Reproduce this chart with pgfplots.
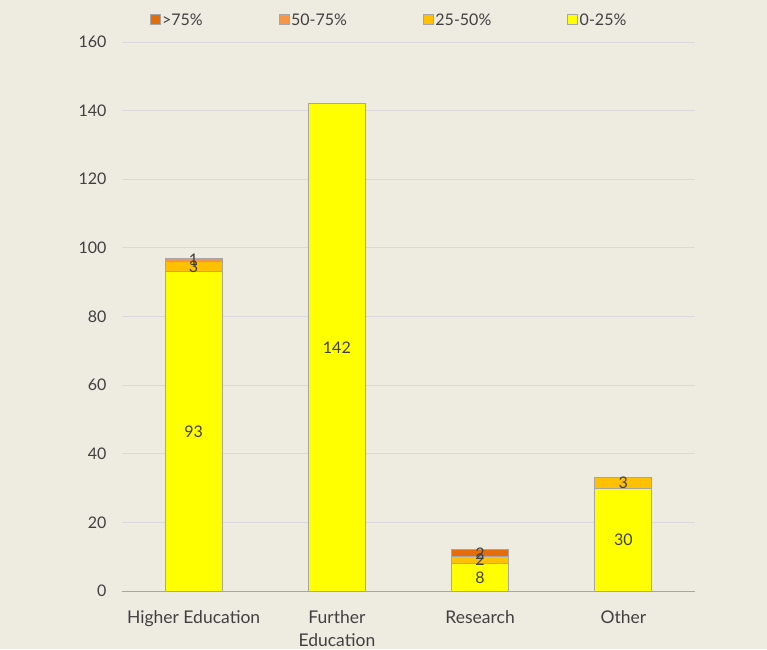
\documentclass[border=0pt]{standalone}
\usepackage{pgfplots}
\pgfplotsset{compat=1.18}
\usepackage{fontspec}
\setmainfont{Lato}
\definecolor{bg}{HTML}{EEEBE1}
\definecolor{cA}{HTML}{FFFF00}
\definecolor{cB}{HTML}{FFC000}
\definecolor{cC}{HTML}{F79646}
\definecolor{cD}{HTML}{E46C0A}
\definecolor{edge}{HTML}{A6A6A6}
\definecolor{txt}{HTML}{404040}
\definecolor{gridc}{HTML}{D9D9D9}
\begin{document}
\begin{tikzpicture}
\useasboundingbox (0,0) rectangle (767pt,649pt);
\fill[bg] (0,0) rectangle (767pt,649pt);
\begin{axis}[
  at={(122pt,58pt)}, anchor=south west,
  scale only axis, width=573pt, height=549pt,
  ybar stacked, bar width=57pt,
  xmin=-0.5, xmax=3.5, ymin=0, ymax=160,
  /pgf/number format/assume math mode=true,
  xtick={0,1,2,3},
  xticklabels={Higher Education, {Further\\Education}, Research, Other},
  xticklabel style={align=center, font=\fontsize{17.5}{23}\selectfont, text=txt, yshift=-12pt},
  x tick style={draw=none},
  extra x ticks={-0.5,0.5,1.5,2.5,3.5},
  extra x tick labels={},
  extra x tick style={major tick length=5pt, tick style={draw=edge, line width=0.6pt}, grid=none},
  xtick align=outside,
  ytick={0,20,...,160},
  yticklabel style={font=\fontsize{16}{18}\selectfont, text=txt, xshift=-12pt},
  y tick style={draw=none},
  ymajorgrids, grid style={gridc, line width=0.8pt},
  axis line style={draw=none},
  axis x line*=bottom,
  x axis line style={draw=edge, line width=0.8pt},
  axis y line*=left,
  y axis line style={draw=none},
  tick pos=lower,
  reverse legend,
  legend columns=4,
  legend style={at={(0.466,1)}, anchor=center, yshift=22pt, draw=none, fill=none,
    font=\fontsize{16}{18}\selectfont, text=txt,
    /tikz/every even column/.append style={column sep=74pt}},
  legend image code/.code={\draw[#1, draw=edge, line width=0.4pt] (0pt,-4.5pt) rectangle (10pt,5.5pt);},
  every axis plot/.append style={draw=edge, line width=0.8pt},
]
\addplot[fill=cA] coordinates {(0,93) (1,142) (2,8) (3,30)};
\addlegendentry{0-25\%}
\addplot[fill=cB] coordinates {(0,3) (1,0) (2,2) (3,3)};
\addlegendentry{25-50\%}
\addplot[fill=cC] coordinates {(0,1) (1,0) (2,0) (3,0)};
\addlegendentry{50-75\%}
\addplot[fill=cD] coordinates {(0,0) (1,0) (2,2) (3,0)};
\addlegendentry{>75\%}
\end{axis}
\begin{axis}[
  at={(122pt,58pt)}, anchor=south west,
  scale only axis, width=573pt, height=549pt,
  xmin=-0.5, xmax=3.5, ymin=0, ymax=160,
  hide axis,
]
\addplot[only marks, mark=none, nodes near coords, point meta=explicit symbolic,
  every node near coord/.append style={anchor=center, font=\fontsize{16}{17}\selectfont, text=txt}]
  coordinates {(0,46.5)[93] (0,94.5)[3] (0,96.5)[1] (1,71)[142] (2,4)[8] (2,9)[2] (2,11)[2] (3,15)[30] (3,31.5)[3]};
\end{axis}
\end{tikzpicture}
\end{document}
